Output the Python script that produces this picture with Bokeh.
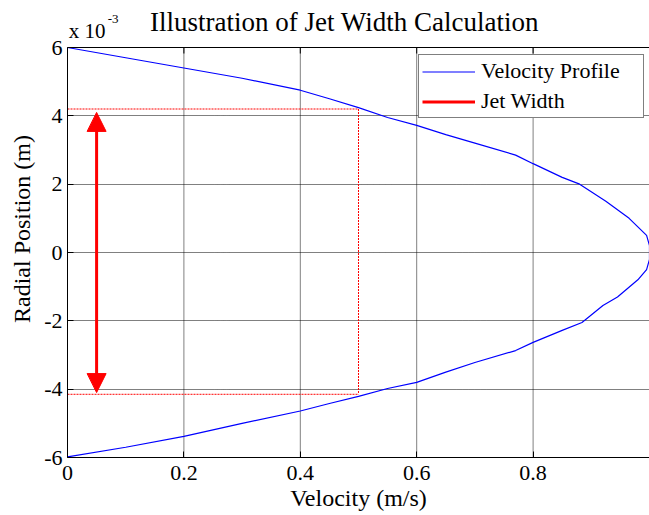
from bokeh.plotting import figure
from bokeh.models import Range1d, FixedTicker, Label, Arrow, NormalHead, Legend, LegendItem
from bokeh.embed import file_html
from bokeh.resources import INLINE

# Data (radial position in units of 1e-3 m)
velocity = [0.0, 0.1, 0.2, 0.3, 0.4, 0.45, 0.5, 0.55, 0.6, 0.65, 0.7, 0.77, 0.8, 0.85, 0.88,
            0.925, 0.965, 0.995, 1.0, 1.0,
            1.0, 0.995, 0.98, 0.945, 0.92, 0.884, 0.85, 0.8, 0.77, 0.7, 0.65, 0.6, 0.55,
            0.5, 0.45, 0.4, 0.3, 0.2, 0.1, 0.0]
radial = [6.0, 5.7, 5.4, 5.1, 4.75, 4.5, 4.24, 3.95, 3.72, 3.45, 3.2, 2.85, 2.6, 2.2, 2.0,
          1.5, 1.0, 0.5, 0.2, 0.0,
          -0.2, -0.5, -0.8, -1.3, -1.55, -2.05, -2.28, -2.63, -2.87, -3.22, -3.5, -3.8, -3.98,
          -4.21, -4.42, -4.64, -5.0, -5.38, -5.7, -5.98]
half_velocity = 0.5
jet_top = 4.2
jet_bottom = -4.15
arrow_x = 0.05

x_ticks = [0, 0.2, 0.4, 0.6, 0.8, 1]
x_tick_labels = ["0", "0.2", "0.4", "0.6", "0.8", ""]   # "1" falls outside the visible picture
y_ticks = [-6, -4, -2, 0, 2, 4, 6]
y_tick_labels = ["-6", "-4", "-2", "0", "2", "4", "6"]

FONT = "Liberation Serif"

# layout (pixels)
AX_TOP_PX = 47          # top of the axes box below the canvas top
AX_H_PX = 410           # height of the axes box
PX = AX_H_PX / (y_ticks[-1] - y_ticks[0])   # pixels per y unit
def above_top(px):      # y value that lies px pixels above the axes box top
    return y_ticks[-1] + px / PX

x_lo, x_hi = x_ticks[0], x_ticks[-1]
y_lo, y_hi = y_ticks[0], y_ticks[-1]

p = figure(frame_width=582, frame_height=AX_TOP_PX + AX_H_PX,
           output_backend="svg", toolbar_location=None,
           x_range=Range1d(x_lo, x_hi), y_range=Range1d(y_lo, above_top(AX_TOP_PX)),
           min_border_left=67, min_border_right=0, min_border_top=0, min_border_bottom=58)
p.background_fill_color = "white"
p.border_fill_color = "white"
p.outline_line_color = None

for ax in (p.xaxis[0], p.yaxis[0]):
    ax.axis_label_text_font = FONT
    ax.axis_label_text_font_size = "24px"
    ax.axis_label_text_font_style = "normal"
    ax.major_label_text_font = FONT
    ax.major_label_text_font_size = "22px"
    ax.major_tick_in = 6
    ax.major_tick_out = 0
    ax.minor_tick_in = 0
    ax.minor_tick_out = 0
    ax.axis_line_color = "black"
    ax.major_tick_line_color = "black"
    ax.major_label_text_color = "black"
    ax.axis_label_text_color = "black"

p.xaxis[0].axis_label = "Velocity (m/s)"
p.yaxis[0].axis_label = "Radial Position (m)"
p.yaxis[0].bounds = (y_lo, y_hi)
p.xaxis[0].ticker = FixedTicker(ticks=x_ticks)
p.yaxis[0].ticker = FixedTicker(ticks=y_ticks)
p.xaxis[0].major_label_overrides = {t: l for t, l in zip(x_ticks, x_tick_labels)}
p.yaxis[0].major_label_overrides = {t: l for t, l in zip(y_ticks, y_tick_labels)}
p.xaxis[0].major_label_standoff = 8
p.yaxis[0].major_label_standoff = 5
p.xaxis[0].axis_label_standoff = 2
p.yaxis[0].axis_label_standoff = 6

# grid (dotted, MATLAB style)
p.xgrid.visible = False
p.ygrid.ticker = FixedTicker(ticks=y_ticks)
p.ygrid.grid_line_color = "black"
p.ygrid.grid_line_dash = "1 1"
p.segment(x0=x_ticks, y0=[y_lo] * len(x_ticks), x1=x_ticks, y1=[y_hi] * len(x_ticks),
          line_color="black", line_dash="1 1", line_width=1)
# top border of the axes box and its inward ticks
p.line([x_lo, x_hi], [y_hi, y_hi], line_color="black", line_width=1)
p.segment(x0=x_ticks, y0=[y_hi] * len(x_ticks), x1=x_ticks, y1=[y_hi - 6 / PX] * len(x_ticks),
          line_color="black", line_width=1)

vel = p.line(velocity, radial, line_color="blue", line_width=1.2)

# jet width construction lines
p.line([0, half_velocity], [jet_top, jet_top], line_color="red", line_dash="2 1", line_width=1)
p.line([0, half_velocity], [jet_bottom, jet_bottom], line_color="red", line_dash="2 1", line_width=1)
p.line([half_velocity, half_velocity], [jet_top, jet_bottom], line_color="red", line_dash="2 1", line_width=1)

jet = p.line([arrow_x, arrow_x], [jet_bottom + 0.3, jet_top - 0.3], line_color="red", line_width=3)
p.add_layout(Arrow(x_start=arrow_x, y_start=jet_bottom + 0.05, x_end=arrow_x, y_end=jet_top - 0.1,
                   line_color="red", line_width=3, line_alpha=0,
                   start=NormalHead(size=19, fill_color="red", line_color="red"),
                   end=NormalHead(size=19, fill_color="red", line_color="red")))

legend = Legend(items=[LegendItem(label="Velocity Profile", renderers=[vel]),
                       LegendItem(label="Jet Width", renderers=[jet])],
                location=(351, 339))
legend.label_text_font = FONT
legend.label_text_font_size = "22px"
legend.label_text_color = "black"
legend.border_line_color = "black"
legend.border_line_width = 1.8
legend.background_fill_alpha = 1
legend.glyph_width = 53
legend.glyph_height = 23
legend.label_height = 23
legend.label_width = 159
legend.spacing = 4
legend.padding = 3
legend.margin = 0
legend.label_standoff = 6
p.add_layout(legend)

# title and the "x 10^-3" exponent marker above the axes box
p.add_layout(Label(x=0.476, y=above_top(26), text="Illustration of Jet Width Calculation",
                   text_font=FONT, text_font_size="27px", text_align="center",
                   text_baseline="alphabetic", text_color="black"))
p.add_layout(Label(x=0.002, y=above_top(17), text="x 10",
                   text_font=FONT, text_font_size="21px", text_align="left",
                   text_baseline="alphabetic", text_color="black"))
p.add_layout(Label(x=0.069, y=above_top(29), text="-3",
                   text_font=FONT, text_font_size="13px", text_align="left",
                   text_baseline="alphabetic", text_color="black"))

open("out.html", "w").write(file_html(p, INLINE))
